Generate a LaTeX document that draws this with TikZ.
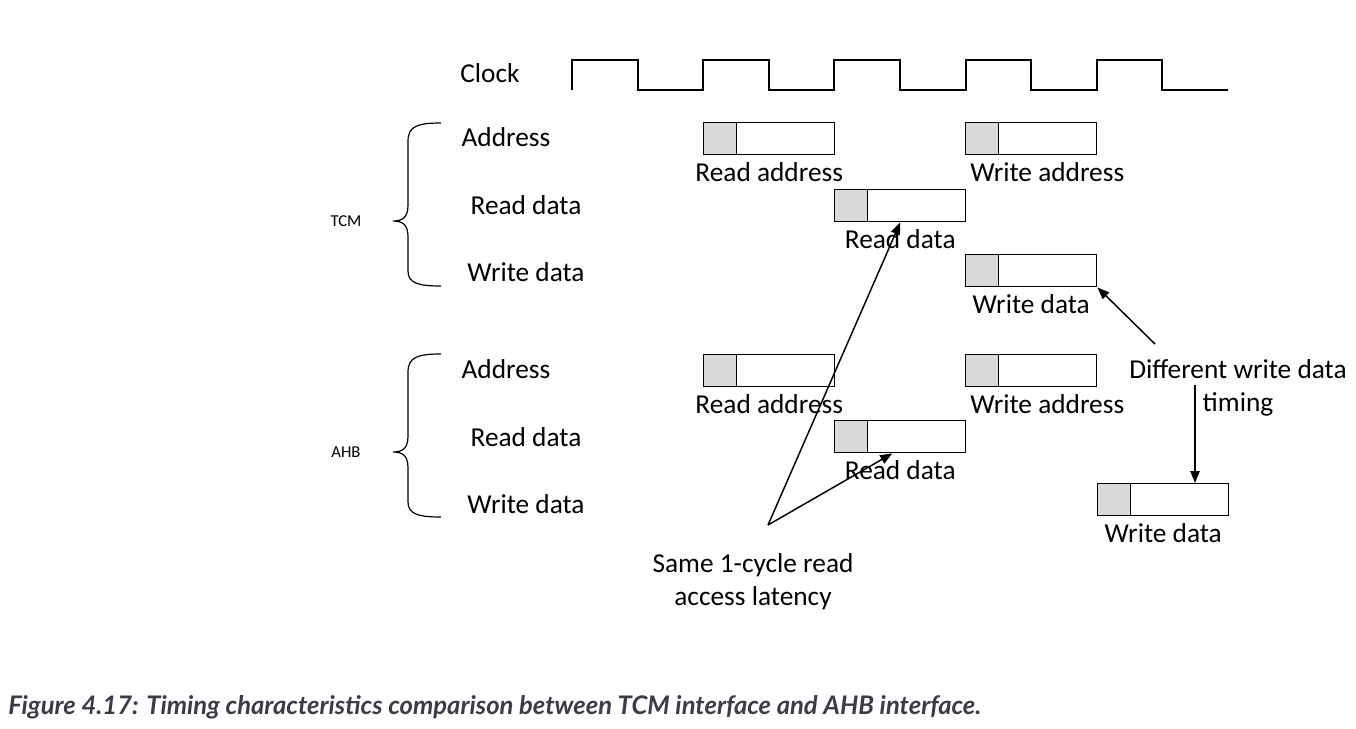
\documentclass[tikz,border=0pt]{standalone}
\usepackage{fontspec}
\setmainfont{Carlito}
\newfontfamily\capfont{Lato}
\usetikzlibrary{calc,arrows.meta}

\definecolor{slotgrey}{HTML}{D9D9D9}
\definecolor{capgrey}{HTML}{3B3C48}

\tikzset{
	curly/.pic={
		\draw[line width=0.9pt] (48,-98) .. controls (25,-98) and (15,-95) .. (15,-80)
			-- (15,-16) .. controls (15,-4) and (10,0) .. (0,0)
			.. controls (10,0) and (15,4) .. (15,16)
			-- (15,50) .. controls (15,62) and (25,65) .. (48,65);
	}
}

\begin{document}
\begin{tikzpicture}[x=0.75pt,y=-0.75pt,
	txt/.style={font=\fontsize{20.5}{24.5}\selectfont, inner sep=0pt},
	grp/.style={font=\fontsize{12.5}{15}\selectfont, inner sep=0pt},
	slot/.style={draw, line width=1.1pt, anchor=north west, inner sep=0pt,
		minimum width=98.25pt, minimum height=24pt,
		path picture={
			\fill[slotgrey] (path picture bounding box.south west) rectangle
				([xshift=24.75pt]path picture bounding box.north west);
			\draw[line width=1.1pt] ([xshift=24.75pt]path picture bounding box.south west)
				-- ([xshift=24.75pt]path picture bounding box.north west);
		}},
	arr/.style={line width=1.1pt, -{Triangle[length=9pt,width=7pt]}}
	]
	\useasboundingbox (0,0) rectangle (1356,728);

	% clock
	\node[txt] (clk) at (490,73) {Clock};
	\draw[line width=1.5pt] (572,90) \foreach \i in {0,...,4} {
		-- ++(0,-30) -- ++(65.6,0) -- ++(0,30) -- ++(65.6,0) };

	% signal names
	\foreach \g/\y in {tcm/137, ahb/369} {
		\node[txt] (\g addr) at (506,\y) {Address};
		\node[txt] (\g rdat) at (526,\y+68) {Read data};
		\node[txt] (\g wdat) at (526,\y+135) {Write data};
	}

	% braces
	\pic at (393,221) {curly};
	\pic at (393,452) {curly};
	\node[grp] (tcm) at (346,221) {TCM};
	\node[grp] (ahb) at (346,452) {AHB};

	% transfers
	\foreach \n/\x/\y/\t/\s in {tcmra/703/122/Read address/0, tcmwa/965/122/Write address/12,
		tcmrd/834/189/Read data/0, tcmwd/965/254/Write data/0,
		ahbra/703/354/Read address/0, ahbwa/965/354/Write address/12,
		ahbrd/834/420/Read data/0, ahbwd/1097/483/Write data/0}
	\node[slot, label={[txt, name=\n t, label distance=5pt, xshift=\s pt]below:\t}] (\n) at (\x,\y) {};

	% notes
	\node[txt, align=center] (same) at (753,582) {Same 1-cycle read\\access latency};
	\node[txt, align=center] (diff) at (1238,388) {Different write data\\timing};
	\coordinate (lat) at (768,525);
	\coordinate (dw1) at (1155,344);
	\coordinate (dw2) at (1195,385);

	\draw[arr] (lat) -- (tcmrd.south);
	\draw[arr] (lat) -- ($(ahbrd.south)+(-8,0)$);
	\draw[arr] (dw1) -- (tcmwd.south east);
	\draw[arr] (dw2) -- (dw2 |- ahbwd.north);

	% caption
	\node[anchor=west, inner sep=0pt, text=capgrey,
		font=\capfont\bfseries\itshape\fontsize{19.2}{22}\selectfont] (cap) at (8,707)
		{Figure 4.17: Timing characteristics comparison between TCM interface and AHB interface.};
\end{tikzpicture}
\end{document}
